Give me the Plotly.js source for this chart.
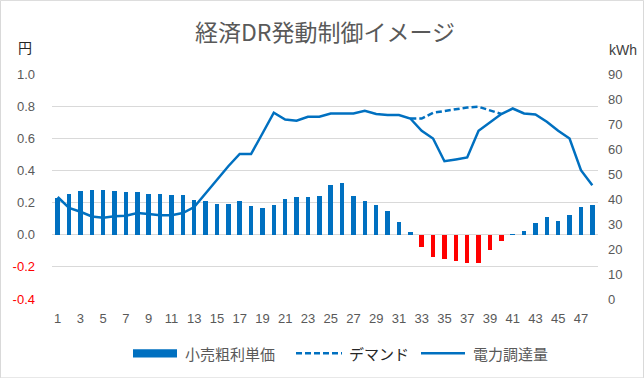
<!DOCTYPE html>
<html>
<head>
<meta charset="utf-8">
<script src="https://cdn.plot.ly/plotly-3.0.1.min.js"></script>
<style>
html,body{margin:0;padding:0;background:#fff;}
#chart{width:644px;height:378px;}
</style>
</head>
<body>
<div id="chart"></div>
<script>
// ---- data ----
const slots = [1,2,3,4,5,6,7,8,9,10,11,12,13,14,15,16,17,18,19,20,21,22,23,24,
               25,26,27,28,29,30,31,32,33,34,35,36,37,38,39,40,41,42,43,44,45,46,47,48];
const xTickVals = [1,3,5,7,9,11,13,15,17,19,21,23,25,27,29,31,33,35,37,39,41,43,45,47];
const marginPrice = [0.228,0.255,0.27,0.28,0.28,0.27,0.264,0.264,0.255,0.255,
                     0.247,0.247,0.214,0.207,0.193,0.193,0.207,0.176,0.168,0.185,
                     0.224,0.232,0.232,0.24,0.31,0.32,0.239,0.207,0.183,0.145,
                     0.081,0.016,-0.079,-0.141,-0.15,-0.166,-0.174,-0.174,-0.093,-0.037,
                     0.005,0.025,0.072,0.112,0.087,0.12,0.17,0.183];
const demand = [null,null,null,null,null,null,null,null,null,null,
                null,null,null,null,null,null,null,null,null,null,
                null,null,null,null,null,null,null,null,null,null,
                null,72.2,72.2,74.5,75.3,76.1,76.6,76.9,75.3,74.0,
                null,null,null,null,null,null,null,null];
const supply = [40.8,36.4,34.9,33.0,32.5,33.1,33.3,34.4,34.0,33.5,
                33.5,34.4,36.8,42.2,47.5,53.1,58.0,58.0,66.2,74.5,
                71.8,71.3,72.9,72.9,74.2,74.2,74.2,75.3,74.0,73.6,
                73.6,72.2,67.3,64.2,55.1,55.8,56.6,67.3,70.5,74.0,
                76.2,74.2,73.8,70.9,67.3,64.2,51.5,45.5];
const leftTicks = [-0.4,-0.2,0,0.2,0.4,0.6,0.8,1.0];
const rightTicks = [0,10,20,30,40,50,60,70,80,90];
const seriesNames = ['小売粗利単価','デマンド','電力調達量'];
const chartTitle = '経済DR発動制御イメージ';

// ---- style ----
const BLUE = '#0070C0', RED = '#FF0000', GREY = '#595959', GRID = '#D9D9D9';
const W = 644, H = 378, L = 52, R = 598, T = 74, B = 298.7;
const px = x => (x - L) / (R - L);
const py = y => (B - y) / (B - T);
const cjk = '"Noto Sans CJK JP", "Noto Sans", sans-serif';
const num = '"Liberation Sans", Arial, sans-serif';

const traces = [
  {type:'bar', x:slots, y:marginPrice, name:seriesNames[0], width:0.4,
   marker:{color:marginPrice.map(v => v < 0 ? RED : BLUE)}, showlegend:false,
   hoverinfo:'x+y'},
  {type:'scatter', mode:'lines', x:slots, y:demand, yaxis:'y2', name:seriesNames[1],
   line:{color:BLUE, width:2.5, dash:'6px,3px'}, showlegend:false},
  {type:'scatter', mode:'lines', x:slots, y:supply, yaxis:'y2', name:seriesNames[2],
   line:{color:BLUE, width:2.5}, showlegend:false}
];

const legendY = 353;
const shapes = [
  {type:'rect', xref:'paper', yref:'paper', x0:px(0.5), x1:px(643.5), y0:py(0.5), y1:py(377.5),
   line:{color:GRID, width:1}, fillcolor:'rgba(0,0,0,0)', layer:'below'},
  {type:'rect', xref:'paper', yref:'paper', x0:px(133), x1:px(177), y0:py(legendY-4), y1:py(legendY+4),
   line:{width:0}, fillcolor:BLUE},
  {type:'line', xref:'paper', yref:'paper', x0:px(296), x1:px(342), y0:py(legendY), y1:py(legendY),
   line:{color:BLUE, width:2.5, dash:'6px,3px'}},
  {type:'line', xref:'paper', yref:'paper', x0:px(421), x1:px(465), y0:py(legendY), y1:py(legendY),
   line:{color:BLUE, width:2.5}}
];
const annotations = [
  {xref:'paper', yref:'paper', x:px(183), y:py(legendY), xanchor:'left', yanchor:'middle',
   text:seriesNames[0], showarrow:false, font:{family:cjk, size:15, color:GREY}},
  {xref:'paper', yref:'paper', x:px(347), y:py(legendY), xanchor:'left', yanchor:'middle',
   text:seriesNames[1], showarrow:false, font:{family:cjk, size:15, color:'#262626'}},
  {xref:'paper', yref:'paper', x:px(471), y:py(legendY), xanchor:'left', yanchor:'middle',
   text:seriesNames[2], showarrow:false, font:{family:cjk, size:15, color:GREY}},
  {xref:'paper', yref:'paper', x:px(25), y:py(47), xanchor:'center', yanchor:'middle',
   text:'円', showarrow:false, font:{family:cjk, size:14, color:'#262626'}},
  {xref:'paper', yref:'paper', x:px(623), y:py(50), xanchor:'center', yanchor:'middle',
   text:'kWh', showarrow:false, font:{family:num, size:14, color:'#404040'}}
];

const layout = {
  width:W, height:H,
  margin:{l:L, r:W-R, t:T, b:H-B, pad:0},
  paper_bgcolor:'#fff', plot_bgcolor:'#fff',
  title:{text:chartTitle, x:0.5, xref:'paper', xanchor:'center', y:1-32.5/H, yanchor:'middle',
         font:{family:cjk, size:23, color:GREY}},
  bargap:0,
  showlegend:false,
  xaxis:{range:[0.5,48.5], tickvals:xTickVals, ticktext:xTickVals.map(String),
         showgrid:false, zeroline:false, showline:false, ticks:'',
         ticklabelstandoff:10, tickfont:{family:num, size:13, color:GREY}, fixedrange:true},
  yaxis:{range:[-0.4,1.0], tickvals:leftTicks,
         ticktext:leftTicks.map(v => v < 0 ? '<span style="color:#FF0000">' + v.toFixed(1) + '</span>' : v.toFixed(1)),
         showgrid:true, gridcolor:GRID, gridwidth:1, zeroline:false, showline:false, ticks:'',
         ticklabelstandoff:16, tickfont:{family:num, size:13, color:GREY}},
  yaxis2:{range:[0,90], tickvals:rightTicks, ticktext:rightTicks.map(String),
          overlaying:'y', side:'right', showgrid:false, zeroline:false, showline:false, ticks:'',
          ticklabelstandoff:9, tickfont:{family:num, size:13, color:GREY}},
  shapes:shapes,
  annotations:annotations
};

Plotly.newPlot('chart', traces, layout, {displayModeBar:false, staticPlot:true});
</script>
</body>
</html>
